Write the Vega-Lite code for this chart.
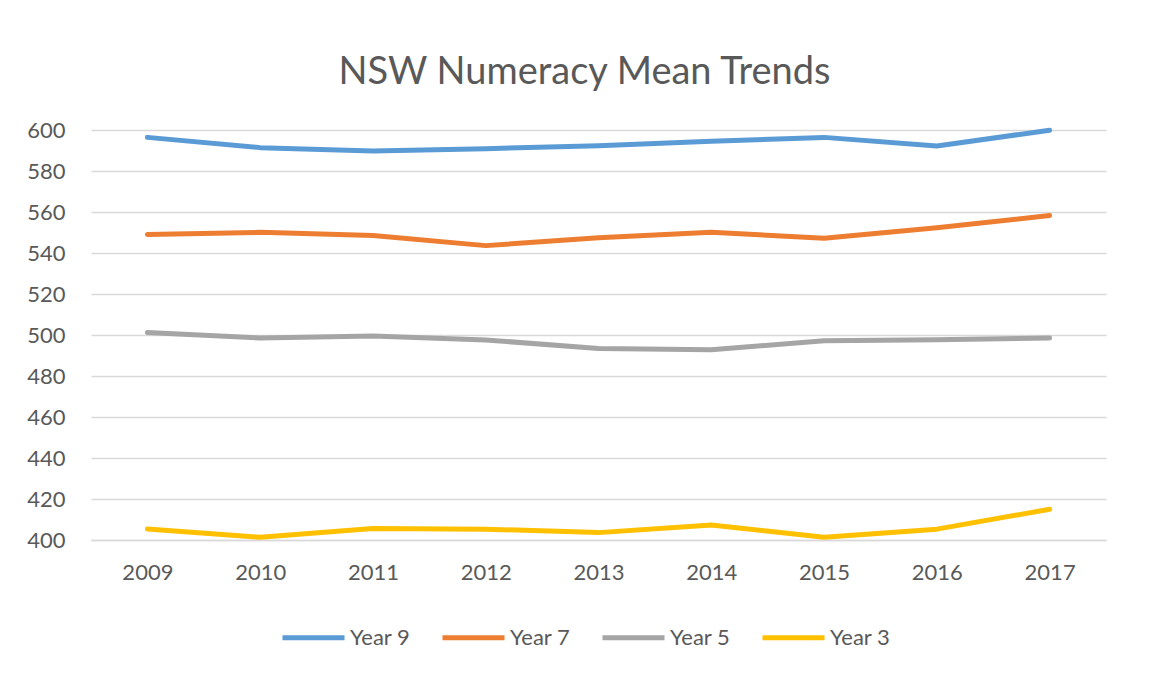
{
  "$schema": "https://vega.github.io/schema/vega-lite/v6.json",
  "width": 1015,
  "height": 410,
  "autosize": {"type": "none"},
  "padding": {"left": 91, "top": 130, "right": 54, "bottom": 142},
  "background": "white",
  "title": {
    "text": "NSW Numeracy Mean Trends",
    "font": "Lato",
    "fontSize": 38,
    "fontWeight": "normal",
    "color": "#595959",
    "anchor": "middle",
    "offset": 27,
    "dx": -14
  },
  "config": {
    "view": {"stroke": null},
    "font": "Lato"
  },
  "data": {
    "values": [
      {"year": "2009", "series": "Year 9", "score": 596.4},
      {"year": "2010", "series": "Year 9", "score": 591.4},
      {"year": "2011", "series": "Year 9", "score": 589.7},
      {"year": "2012", "series": "Year 9", "score": 590.9},
      {"year": "2013", "series": "Year 9", "score": 592.3},
      {"year": "2014", "series": "Year 9", "score": 594.5},
      {"year": "2015", "series": "Year 9", "score": 596.4},
      {"year": "2016", "series": "Year 9", "score": 592.2},
      {"year": "2017", "series": "Year 9", "score": 599.9},
      {"year": "2009", "series": "Year 7", "score": 549.0},
      {"year": "2010", "series": "Year 7", "score": 550.1},
      {"year": "2011", "series": "Year 7", "score": 548.5},
      {"year": "2012", "series": "Year 7", "score": 543.6},
      {"year": "2013", "series": "Year 7", "score": 547.4},
      {"year": "2014", "series": "Year 7", "score": 550.1},
      {"year": "2015", "series": "Year 7", "score": 547.2},
      {"year": "2016", "series": "Year 7", "score": 552.3},
      {"year": "2017", "series": "Year 7", "score": 558.3},
      {"year": "2009", "series": "Year 5", "score": 501.2},
      {"year": "2010", "series": "Year 5", "score": 498.5},
      {"year": "2011", "series": "Year 5", "score": 499.5},
      {"year": "2012", "series": "Year 5", "score": 497.6},
      {"year": "2013", "series": "Year 5", "score": 493.4},
      {"year": "2014", "series": "Year 5", "score": 492.8},
      {"year": "2015", "series": "Year 5", "score": 497.2},
      {"year": "2016", "series": "Year 5", "score": 497.7},
      {"year": "2017", "series": "Year 5", "score": 498.5},
      {"year": "2009", "series": "Year 3", "score": 405.4},
      {"year": "2010", "series": "Year 3", "score": 401.3},
      {"year": "2011", "series": "Year 3", "score": 405.6},
      {"year": "2012", "series": "Year 3", "score": 405.3},
      {"year": "2013", "series": "Year 3", "score": 403.6},
      {"year": "2014", "series": "Year 3", "score": 407.3},
      {"year": "2015", "series": "Year 3", "score": 401.3},
      {"year": "2016", "series": "Year 3", "score": 405.3},
      {"year": "2017", "series": "Year 3", "score": 415.0}
    ]
  },
  "mark": {"type": "line", "strokeWidth": 5, "strokeCap": "round", "strokeJoin": "round"},
  "encoding": {
    "x": {
      "field": "year",
      "type": "ordinal",
      "scale": {"type": "point", "padding": 0.5},
      "axis": {
        "title": null,
        "labelAngle": 0,
        "labelFont": "Lato",
        "labelFontSize": 22,
        "labelColor": "#595959",
        "labelPadding": 22,
        "ticks": false,
        "domain": true,
        "domainColor": "#D9D9D9",
        "domainWidth": 1.5,
        "grid": false
      }
    },
    "y": {
      "field": "score",
      "type": "quantitative",
      "scale": {"domain": [400, 600], "nice": false, "zero": false},
      "axis": {
        "title": null,
        "values": [400, 420, 440, 460, 480, 500, 520, 540, 560, 580, 600],
        "labelFont": "Lato",
        "labelFontSize": 22,
        "labelColor": "#595959",
        "labelPadding": 26,
        "ticks": false,
        "domain": false,
        "grid": true,
        "gridColor": "#D9D9D9",
        "gridWidth": 1.5
      }
    },
    "color": {
      "field": "series",
      "type": "nominal",
      "scale": {
        "domain": ["Year 9", "Year 7", "Year 5", "Year 3"],
        "range": ["#5B9BD5", "#ED7D31", "#A5A5A5", "#FFC000"]
      },
      "legend": {
        "title": null,
        "orient": "none",
        "direction": "horizontal",
        "legendX": 189,
        "legendY": 474,
        "symbolType": "stroke",
        "symbolSize": 3844,
        "symbolStrokeWidth": 5,
        "labelFont": "Lato",
        "labelFontSize": 22,
        "labelColor": "#595959",
        "labelOffset": 3,
        "columnPadding": 21
      }
    }
  }
}
